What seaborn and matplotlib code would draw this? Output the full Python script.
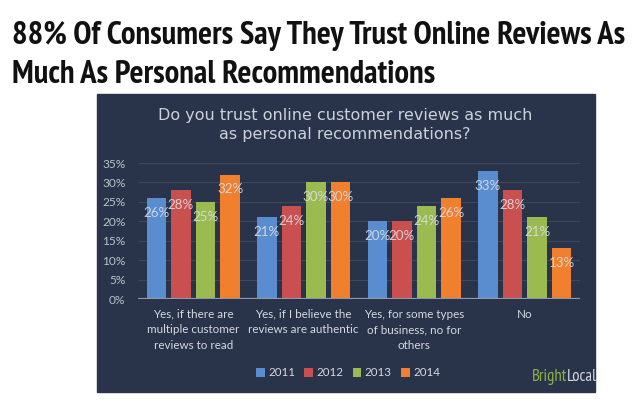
import os
import matplotlib
matplotlib.use("Agg")
import matplotlib.pyplot as plt
import matplotlib.patches as mpatches
from matplotlib import font_manager as fm
import seaborn as sns
import pandas as pd

categorias = ["Yes, if there are\nmultiple customer\nreviews to read",
              "Yes, if I believe the\nreviews are authentic",
              "Yes, for some types\nof business, no for\nothers",
              "No"]
anios = ["2011", "2012", "2013", "2014"]
v2011 = [26, 21, 20, 33]
v2012 = [28, 24, 20, 28]
v2013 = [25, 30, 24, 21]
v2014 = [32, 30, 26, 13]
yticks = [0, 5, 10, 15, 20, 25, 30, 35]

titulo = ["88% Of Consumers Say They Trust Online Reviews As",
          "Much As Personal Recommendations"]
pregunta = "Do you trust online customer reviews as much\nas personal recommendations?"

colores = ["#5A8DD0", "#C9504F", "#9BBB50", "#F07F2E"]
FONDO = "#29344A"


def buscar_fuente(claves, evitar, respaldo):
    # busca un archivo de fuente estrecha entre las fuentes del sistema
    archivos = sorted(fm.findSystemFonts())
    for clave in claves:
        for f in archivos:
            nombre = os.path.basename(f)
            if all(k in nombre for k in clave) and not any(e in nombre for e in evitar):
                return fm.FontProperties(fname=f)
    return respaldo


fuente_titulo = buscar_fuente(
    [("NotoSans-ExtraCondensedExtraBold.",), ("NotoSans-ExtraCondensedBold.",),
     ("NotoSans-CondensedBold.",), ("Narrow", "Bold"), ("Condensed", "Bold")],
    ["SemiBold", "Italic", "Serif", "Mono", "Display"],
    fm.FontProperties(family="DejaVu Sans", weight="bold"))
fuente_marca = buscar_fuente(
    [("NotoSans-ExtraCondensed.",), ("NotoSans-Condensed.",),
     ("Narrow", "Regular"), ("Condensed", "Regular")],
    ["Italic", "Serif", "Mono", "Display"],
    fm.FontProperties(family="DejaVu Sans"))

df = pd.DataFrame({
    "categoria": categorias * len(anios),
    "anio": [a for a in anios for _ in categorias],
    "valor": v2011 + v2012 + v2013 + v2014,
})

sns.set_theme(style="white")
plt.rcParams["font.family"] = ["Lato", "DejaVu Sans"]

W, H = 640, 404
fig = plt.figure(figsize=(W / 100, H / 100), dpi=100)
fig.patch.set_facecolor("white")


def fx(px):
    return px / W


def fy(py):
    return 1 - py / H


# panel oscuro
fig.add_artist(mpatches.Rectangle((fx(97), fy(392)), fx(595) - fx(97), fy(94) - fy(392),
                                  transform=fig.transFigure, color=FONDO, zorder=0))

ax = fig.add_axes([fx(138), fy(299), fx(580) - fx(138), fy(163) - fy(299)])
ax.set_facecolor("none")

sns.barplot(data=df, x="categoria", y="valor", hue="anio", order=categorias, hue_order=anios,
            palette=colores, saturation=1, width=0.89, gap=0.2, errorbar=None,
            edgecolor="none", linewidth=0, ax=ax)

ax.set_xlim(-0.5, 3.5)
ax.set_ylim(0, 35)
ax.set_yticks(yticks)
ax.set_yticklabels([f"{t}%" for t in yticks])
ax.set_xlabel("")
ax.set_ylabel("")
for s in ax.spines.values():
    s.set_visible(False)
ax.grid(axis="y", color="#3D485B", lw=0.8)
ax.set_axisbelow(True)
ax.axhline(0, color="#8E98A7", lw=1.6, zorder=3)
ax.tick_params(axis="y", length=0, pad=9, labelsize=8.6, labelcolor="#BAC1CC")
ax.tick_params(axis="x", length=0, pad=7, labelsize=8.4, labelcolor="#D5D9DF")
for lab in ax.get_xticklabels():
    lab.set_linespacing(1.5)

for c in ax.containers:
    ax.bar_label(c, labels=[f"{v:.0f}%" for v in c.datavalues], padding=-15,
                 color="#DADEE4", alpha=0.9, fontsize=9.6)

sns.move_legend(ax, "center", bbox_to_anchor=(fx(348), fy(373)), bbox_transform=fig.transFigure,
                ncol=4, title=None, frameon=False, handlelength=0.75, handleheight=0.75,
                handletextpad=0.3, columnspacing=0.8, fontsize=8.3, labelcolor="#D5D9DF")

# titulo principal
t1 = fig.text(fx(12), fy(44), titulo[0], fontsize=22, fontproperties=fuente_titulo,
              color="#111111", va="baseline")
t2 = fig.text(fx(12), fy(83), titulo[1], fontsize=22, fontproperties=fuente_titulo,
              color="#111111", va="baseline")

tp = fig.text(fx(345), fy(125), pregunta, ha="center", va="center", color="#CDD2DA",
              fontsize=10, family=["DejaVu Sans"])

m1 = fig.text(fx(567), fy(377), "Bright", ha="right", va="center", color="#8DB343",
              fontsize=11, fontproperties=fuente_marca)
m2 = fig.text(fx(567), fy(377), "Local", ha="left", va="center", color="#D3D7DD",
              fontsize=11, fontproperties=fuente_marca)

# ajustar tamaños al ancho de la imagen original
fig.canvas.draw()
r = fig.canvas.get_renderer()
s = t1.get_fontsize() * 612 / t1.get_window_extent(r).width
t1.set_fontsize(s)
t2.set_fontsize(s)
s2 = tp.get_fontsize() * 371 / tp.get_window_extent(r).width
tp.set_fontsize(s2)
tp.set_linespacing(20 / (s2 * 100 / 72))
s3 = m1.get_fontsize() * 35 / m1.get_window_extent(r).width
m1.set_fontsize(s3)
m2.set_fontsize(s3)

fig.savefig("out.png", dpi=100)
plt.close(fig)
